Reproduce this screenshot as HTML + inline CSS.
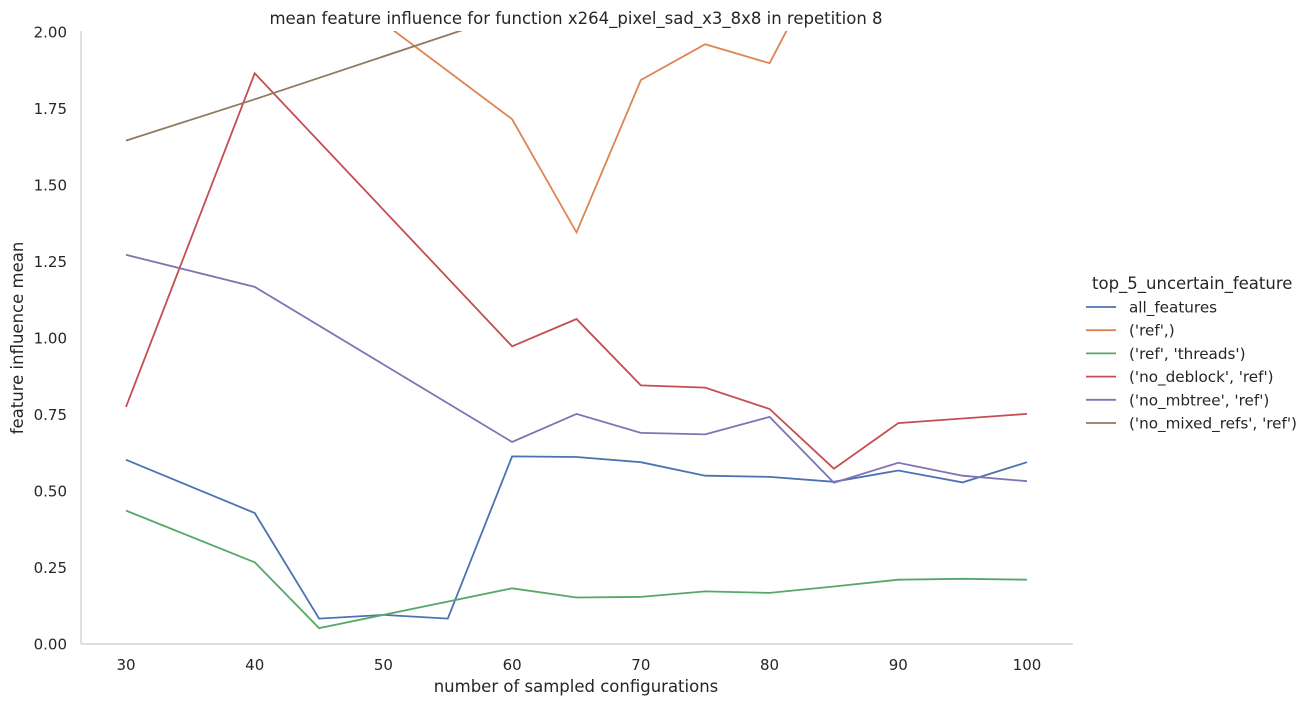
<!DOCTYPE html>
<html><head><meta charset="utf-8"><style>
html,body{margin:0;padding:0;background:#fff;}
svg{display:block;font-family:"DejaVu Sans","Liberation Sans",sans-serif;}
</style></head><body>
<svg id="chart" width="1312" height="706">
<defs><clipPath id="plotclip"><rect x="81" y="31" width="992" height="614"/></clipPath></defs>
<text x="576" y="24" text-anchor="middle" font-size="16.5" fill="#262626">mean feature influence for function x264_pixel_sad_x3_8x8 in repetition 8</text>
<g id="yticks"></g><g id="xticks"></g>
<line x1="81" y1="31" x2="81" y2="644" stroke="#cccccc" stroke-width="1.2"/>
<line x1="81" y1="644" x2="1073" y2="644" stroke="#cccccc" stroke-width="1.2"/>
<g id="series" clip-path="url(#plotclip)"></g>
<text x="576" y="692" text-anchor="middle" font-size="16.5" fill="#262626">number of sampled configurations</text>
<text transform="translate(23,338) rotate(-90)" text-anchor="middle" font-size="16.5" fill="#262626">feature influence mean</text>
<g id="legend">
<text x="1092" y="289" font-size="16.5" fill="#262626">top_5_uncertain_feature</text>
</g>
</svg>
<script>
const xVals=[30,40,45,50,55,60,65,70,75,80,85,90,95,100];
const allFeatures=[0.602,0.428,0.083,0.095,0.083,0.613,0.611,0.594,0.550,0.546,0.530,0.567,0.528,0.594];
const refOnly=[2.5,2.4,null,2.03,null,1.715,1.345,1.843,1.96,1.898,2.3,2.4,2.4,2.4];
const refThreads=[0.436,0.267,0.052,0.095,null,0.182,0.152,0.154,0.172,0.167,0.188,0.210,0.213,0.210];
const noDeblock=[0.775,1.865,null,null,null,0.973,1.062,0.845,0.838,0.768,0.573,0.722,0.737,0.752];
const noMbtree=[1.272,1.167,null,null,null,0.660,0.752,0.690,0.685,0.742,0.527,0.592,0.550,0.532];
const noMixedRefs=[1.645,1.780,null,null,null,2.06,2.3,2.4,2.4,2.4,2.4,2.4,2.4,2.4];
const seriesNames=["all_features","('ref',)","('ref', 'threads')","('no_deblock', 'ref')","('no_mbtree', 'ref')","('no_mixed_refs', 'ref')"];
const yTickLabels=["0.00","0.25","0.50","0.75","1.00","1.25","1.50","1.75","2.00"];
const xTickLabels=["30","40","50","60","70","80","90","100"];
const seriesData=[allFeatures,refOnly,refThreads,noDeblock,noMbtree,noMixedRefs];
const colors=["#4c72b0","#dd8452","#55a868","#c44e52","#8172b3","#937860"];
const slugs=["all-features","ref","ref-threads","no-deblock-ref","no-mbtree-ref","no-mixed-refs-ref"];
const NS="http://www.w3.org/2000/svg";
const xs=v=>126+(v-30)*(1027-126)/70;
const ys=v=>644-v*(644-32)/2;
const yt=document.getElementById('yticks');
yTickLabels.forEach(l=>{const t=document.createElementNS(NS,'text');
t.setAttribute('x',67);t.setAttribute('y',ys(+l)+5.5);t.setAttribute('text-anchor','end');
t.setAttribute('font-size','15');t.setAttribute('fill','#262626');t.textContent=l;


yt.appendChild(t);});
const xt=document.getElementById('xticks');
xTickLabels.forEach(l=>{const t=document.createElementNS(NS,'text');
t.setAttribute('x',xs(+l));t.setAttribute('y',670);t.setAttribute('text-anchor','middle');
t.setAttribute('font-size','15');t.setAttribute('fill','#262626');t.textContent=l;


xt.appendChild(t);});
const sg=document.getElementById('series');
const lg=document.getElementById('legend');
seriesData.forEach((arr,i)=>{
 let pts=[];arr.forEach((v,j)=>{if(v!==null)pts.push(xs(xVals[j]).toFixed(1)+','+ys(v).toFixed(1));});
 const p=document.createElementNS(NS,'polyline');
 p.setAttribute('points',pts.join(' '));p.setAttribute('fill','none');
 p.setAttribute('stroke',colors[i]);p.setAttribute('stroke-width','1.8');
 
 
 sg.appendChild(p);
 const y=307+i*23.2;
 const g=document.createElementNS(NS,'g');
 
 
 const ln=document.createElementNS(NS,'line');
 ln.setAttribute('x1',1086);ln.setAttribute('x2',1116);ln.setAttribute('y1',y);ln.setAttribute('y2',y);
 ln.setAttribute('stroke',colors[i]);ln.setAttribute('stroke-width','1.8');
 g.appendChild(ln);
 const t=document.createElementNS(NS,'text');
 t.setAttribute('x',1129);t.setAttribute('y',y+5.5);t.setAttribute('font-size','15.2');
 t.setAttribute('fill','#262626');t.textContent=seriesNames[i];
 g.appendChild(t);lg.appendChild(g);
});
</script>
</body></html>
